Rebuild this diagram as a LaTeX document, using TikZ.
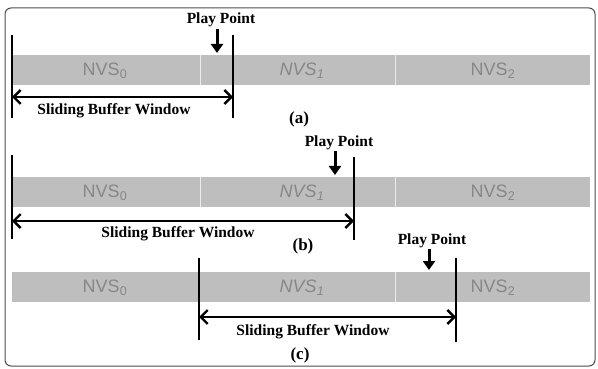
\documentclass[tikz,border=0pt]{standalone}
\usepackage{fontspec}
\setmainfont{Liberation Serif}
\newfontfamily\nvsfont{Liberation Sans}
\usetikzlibrary{arrows.meta}
\definecolor{barfill}{RGB}{190,190,190}
\definecolor{nvstext}{RGB}{135,135,135}
\begin{document}
\begin{tikzpicture}[x=1pt,y=-1pt,
  barbox/.style={fill=barfill,draw=none},
  divider/.style={draw=white!92!black,line width=1pt},
  nvs/.style={font=\nvsfont\fontsize{18}{18}\selectfont,text=nvstext,inner sep=0pt},
  lbl/.style={font=\bfseries\fontsize{15.5}{15.5}\selectfont,inner sep=0pt},
  caplbl/.style={font=\bfseries\fontsize{17}{17}\selectfont,inner sep=0pt},
  edge/.style={line width=2.6pt},
  window/.style={line width=2.4pt,{Straight Barb[length=7pt,width=14pt,line width=2.4pt]}-{Straight Barb[length=7pt,width=14pt,line width=2.4pt]}},
  play/.style={line width=3pt,-{Triangle[length=9pt,width=12pt]}}]
\useasboundingbox (0,0) rectangle (598,369);
\draw[line width=1pt,draw=black!70,rounded corners=6pt] (5,8) rectangle (595,366);

% ---------- (a)
\fill[barbox] (12,55) rectangle (590,85);
\draw[divider] (200,55) -- (200,85);
\draw[divider] (395,55) -- (395,85);
\node[nvs] (a0) at (105,71) {NVS\textsubscript{0}};
\node[nvs] (a1) at (302,71) {\itshape NVS\textsubscript{1}};
\node[nvs] (a2) at (493,71) {NVS\textsubscript{2}};
\coordinate (aLt) at (12,35); \coordinate (aLb) at (12,118);
\coordinate (aRt) at (233,35); \coordinate (aRb) at (233,118);
\draw[edge] (aLt) -- (aLb);
\draw[edge] (aRt) -- (aRb);
\coordinate (aWl) at (12,97); \coordinate (aWr) at (233,97);
\draw[window] (aWl) -- (aWr);
\node[lbl] (aW) at (114,111) {Sliding Buffer Window};
\node[caplbl] (aC) at (299,119) {(a)};
\node[lbl] (aP) at (221,20) {Play Point};
\coordinate (aPe) at (217,53);
\draw[play] (217,29) -- (aPe);

% ---------- (b)
\fill[barbox] (12,177) rectangle (590,207);
\draw[divider] (200,177) -- (200,207);
\draw[divider] (395,177) -- (395,207);
\node[nvs] (b0) at (105,193) {NVS\textsubscript{0}};
\node[nvs] (b1) at (302,193) {\itshape NVS\textsubscript{1}};
\node[nvs] (b2) at (493,193) {NVS\textsubscript{2}};
\coordinate (bLt) at (12,155); \coordinate (bLb) at (12,239);
\coordinate (bRt) at (354,157); \coordinate (bRb) at (354,240);
\draw[edge] (bLt) -- (bLb);
\draw[edge] (bRt) -- (bRb);
\coordinate (bWl) at (12,221); \coordinate (bWr) at (354,221);
\draw[window] (bWl) -- (bWr);
\node[lbl] (bW) at (178,234) {Sliding Buffer Window};
\node[caplbl] (bC) at (303,246) {(b)};
\node[lbl] (bP) at (339,143) {Play Point};
\coordinate (bPe) at (335,175);
\draw[play] (335,151) -- (bPe);

% ---------- (c)
\fill[barbox] (12,272) rectangle (590,302);
\draw[divider] (395,272) -- (395,302);
\node[nvs] (c0) at (105,288) {NVS\textsubscript{0}};
\node[nvs] (c1) at (302,288) {\itshape NVS\textsubscript{1}};
\node[nvs] (c2) at (493,288) {NVS\textsubscript{2}};
\coordinate (cLt) at (199,258); \coordinate (cLb) at (199,340);
\coordinate (cRt) at (456,258); \coordinate (cRb) at (456,342);
\draw[edge] (cLt) -- (cLb);
\draw[edge] (cRt) -- (cRb);
\coordinate (cWl) at (199,317); \coordinate (cWr) at (456,317);
\draw[window] (cWl) -- (cWr);
\node[lbl] (cW) at (313,332) {Sliding Buffer Window};
\node[caplbl] (cC) at (300,355) {(c)};
\node[lbl] (cP) at (432,241) {Play Point};
\coordinate (cPe) at (429,270);
\draw[play] (429,249) -- (cPe);
\end{tikzpicture}
\end{document}
